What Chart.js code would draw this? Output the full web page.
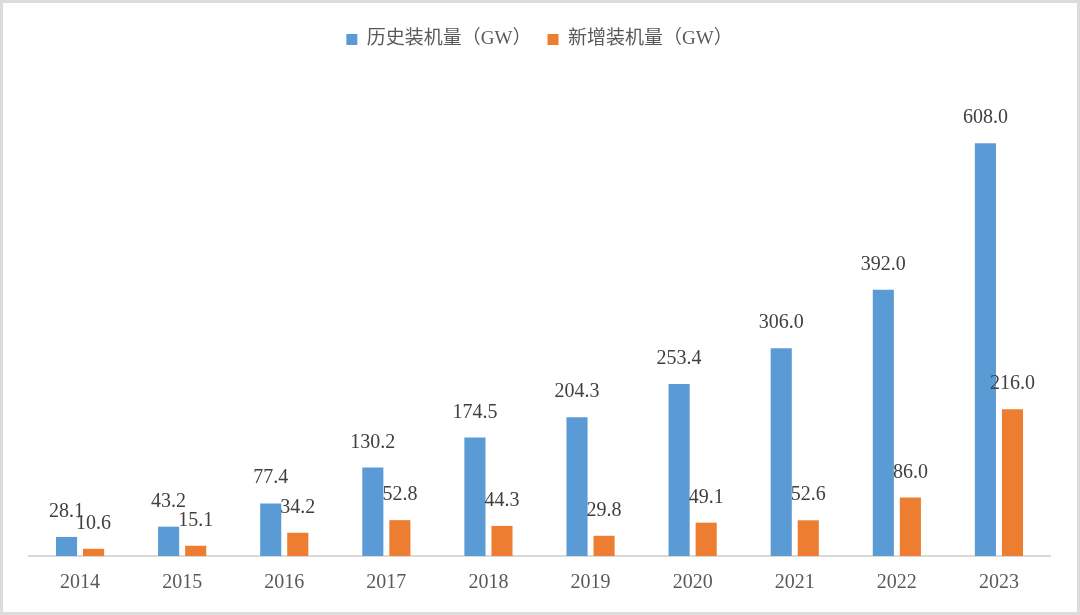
<!DOCTYPE html>
<html>
<head>
<meta charset="utf-8">
<script src="https://cdn.jsdelivr.net/npm/chart.js@4.4.0/dist/chart.umd.min.js"></script>
<style>
  html, body { margin: 0; padding: 0; background: #fff; }
  #wrap { width: 1080px; height: 615px; position: relative; }
</style>
</head>
<body>
<div id="wrap"><canvas id="chart"></canvas></div>
<script>
// data
const years = ["2014", "2015", "2016", "2017", "2018", "2019", "2020", "2021", "2022", "2023"];
const totalCapacity = [28.1, 43.2, 77.4, 130.2, 174.5, 204.3, 253.4, 306.0, 392.0, 608.0];
const newCapacity = [10.6, 15.1, 34.2, 52.8, 44.3, 29.8, 49.1, 52.6, 86.0, 216.0];
const seriesNames = ["历史装机量（GW）", "新增装机量（GW）"];

const fontFamily = "'Liberation Serif', 'Times New Roman', 'Noto Sans CJK SC', serif";

// value labels above each bar
const barLabels = {
  id: "barLabels",
  afterDatasetsDraw(chart) {
    const ctx = chart.ctx;
    ctx.save();
    ctx.font = "20px " + fontFamily;
    ctx.fillStyle = "#404040";
    ctx.textAlign = "center";
    ctx.textBaseline = "alphabetic";
    chart.data.datasets.forEach((ds, i) => {
      const meta = chart.getDatasetMeta(i);
      meta.data.forEach((bar, j) => {
        ctx.fillText(ds.data[j].toFixed(1), bar.x, bar.y - 20);
      });
    });
    ctx.restore();
  },
};

// grey frame round the picture
const frame = {
  id: "frame",
  afterDraw(chart) {
    const ctx = chart.ctx;
    ctx.save();
    ctx.strokeStyle = "#dcdcdc";
    ctx.lineWidth = 3;
    ctx.strokeRect(1.5, 1.5, chart.width - 3, chart.height - 3);
    ctx.restore();
  },
};

new Chart(document.getElementById("chart"), {
  type: "bar",
  data: {
    labels: years,
    datasets: [
      {
        label: seriesNames[0],
        data: totalCapacity,
        backgroundColor: "#5b9bd5",
        categoryPercentage: 0.53,
        barPercentage: 0.78,
      },
      {
        label: seriesNames[1],
        data: newCapacity,
        backgroundColor: "#ed7d31",
        categoryPercentage: 0.53,
        barPercentage: 0.78,
      },
    ],
  },
  options: {
    responsive: true,
    maintainAspectRatio: false,
    animation: false,
    layout: {
      padding: { left: 29, right: 30, top: 14, bottom: 5 },
    },
    plugins: {
      tooltip: { enabled: false },
      legend: {
        position: "top",
        labels: {
          boxWidth: 11,
          boxHeight: 11,
          padding: 16,
          color: "#595959",
          font: { family: fontFamily, size: 19 },
        },
      },
    },
    scales: {
      x: {
        grid: { display: false, drawTicks: false },
        border: { color: "#d9d9d9", width: 2 },
        ticks: {
          padding: 15,
          color: "#595959",
          font: { family: fontFamily, size: 20 },
        },
      },
      y: {
        display: false,
        min: 0,
        max: 732,
      },
    },
  },
  plugins: [barLabels, frame],
});
</script>
</body>
</html>
